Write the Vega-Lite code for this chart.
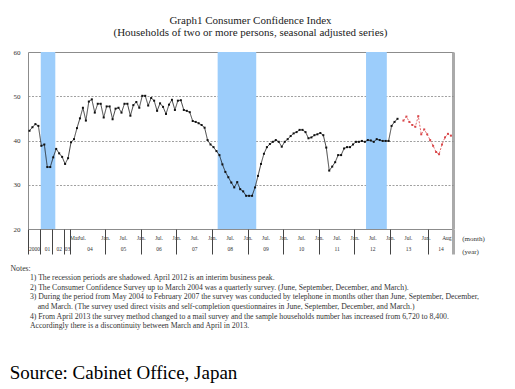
{
  "$schema": "https://vega.github.io/schema/vega-lite/v6.json",
  "width": 425,
  "height": 177,
  "autosize": {"type": "none"},
  "padding": {"left": 28, "top": 52, "right": 62, "bottom": 160},
  "background": "white",
  "config": {
    "font": "Liberation Serif",
    "view": {"stroke": "#8c8c8c", "strokeWidth": 1}
  },
  "title": {
    "text": "Graph1 Consumer Confidence Index",
    "subtitle": "(Households of two or more persons, seasonal adjusted series)",
    "font": "Liberation Serif",
    "subtitleFont": "Liberation Serif",
    "fontSize": 11,
    "subtitleFontSize": 11,
    "fontWeight": "normal",
    "color": "#222",
    "subtitleColor": "#222",
    "anchor": "middle",
    "dx": 10,
    "offset": 10,
    "subtitlePadding": 1
  },
  "datasets": {
    "rec": [
      {"start": 3.8, "end": 8.7},
      {"start": 63.4, "end": 76.4},
      {"start": 113.4, "end": 120.4}
    ],
    "cci": [
      {"slot": 0, "value": 42.2, "series": "old"},
      {"slot": 1, "value": 43.0, "series": "old"},
      {"slot": 2, "value": 43.7, "series": "old"},
      {"slot": 3, "value": 43.3, "series": "old"},
      {"slot": 4, "value": 38.8, "series": "old"},
      {"slot": 5, "value": 39.1, "series": "old"},
      {"slot": 6, "value": 34.0, "series": "old"},
      {"slot": 7, "value": 34.0, "series": "old"},
      {"slot": 8, "value": 36.2, "series": "old"},
      {"slot": 9, "value": 38.1, "series": "old"},
      {"slot": 10, "value": 37.1, "series": "old"},
      {"slot": 11, "value": 36.3, "series": "old"},
      {"slot": 12, "value": 34.7, "series": "old"},
      {"slot": 13, "value": 36.0, "series": "old"},
      {"slot": 14, "value": 39.6, "series": "old"},
      {"slot": 15, "value": 40.3, "series": "old"},
      {"slot": 16, "value": 42.8, "series": "old"},
      {"slot": 17, "value": 45.0, "series": "old"},
      {"slot": 18, "value": 47.4, "series": "old"},
      {"slot": 19, "value": 44.5, "series": "old"},
      {"slot": 20, "value": 48.8, "series": "old"},
      {"slot": 21, "value": 49.3, "series": "old"},
      {"slot": 22, "value": 46.3, "series": "old"},
      {"slot": 23, "value": 48.3, "series": "old"},
      {"slot": 24, "value": 48.3, "series": "old"},
      {"slot": 25, "value": 45.2, "series": "old"},
      {"slot": 26, "value": 47.7, "series": "old"},
      {"slot": 27, "value": 47.7, "series": "old"},
      {"slot": 28, "value": 44.8, "series": "old"},
      {"slot": 29, "value": 47.2, "series": "old"},
      {"slot": 30, "value": 47.4, "series": "old"},
      {"slot": 31, "value": 46.3, "series": "old"},
      {"slot": 32, "value": 48.3, "series": "old"},
      {"slot": 33, "value": 48.3, "series": "old"},
      {"slot": 34, "value": 45.6, "series": "old"},
      {"slot": 35, "value": 48.0, "series": "old"},
      {"slot": 36, "value": 48.7, "series": "old"},
      {"slot": 37, "value": 47.4, "series": "old"},
      {"slot": 38, "value": 50.1, "series": "old"},
      {"slot": 39, "value": 50.1, "series": "old"},
      {"slot": 40, "value": 47.9, "series": "old"},
      {"slot": 41, "value": 49.6, "series": "old"},
      {"slot": 42, "value": 49.0, "series": "old"},
      {"slot": 43, "value": 46.7, "series": "old"},
      {"slot": 44, "value": 48.4, "series": "old"},
      {"slot": 45, "value": 47.6, "series": "old"},
      {"slot": 46, "value": 46.0, "series": "old"},
      {"slot": 47, "value": 48.1, "series": "old"},
      {"slot": 48, "value": 49.2, "series": "old"},
      {"slot": 49, "value": 46.9, "series": "old"},
      {"slot": 50, "value": 49.0, "series": "old"},
      {"slot": 51, "value": 49.1, "series": "old"},
      {"slot": 52, "value": 46.9, "series": "old"},
      {"slot": 53, "value": 46.7, "series": "old"},
      {"slot": 54, "value": 46.4, "series": "old"},
      {"slot": 55, "value": 44.4, "series": "old"},
      {"slot": 56, "value": 44.2, "series": "old"},
      {"slot": 57, "value": 43.9, "series": "old"},
      {"slot": 58, "value": 43.5, "series": "old"},
      {"slot": 59, "value": 42.9, "series": "old"},
      {"slot": 60, "value": 40.1, "series": "old"},
      {"slot": 61, "value": 39.1, "series": "old"},
      {"slot": 62, "value": 38.5, "series": "old"},
      {"slot": 63, "value": 37.6, "series": "old"},
      {"slot": 64, "value": 36.7, "series": "old"},
      {"slot": 65, "value": 34.6, "series": "old"},
      {"slot": 66, "value": 32.9, "series": "old"},
      {"slot": 67, "value": 31.7, "series": "old"},
      {"slot": 68, "value": 30.5, "series": "old"},
      {"slot": 69, "value": 29.4, "series": "old"},
      {"slot": 70, "value": 30.6, "series": "old"},
      {"slot": 71, "value": 29.0, "series": "old"},
      {"slot": 72, "value": 28.5, "series": "old"},
      {"slot": 73, "value": 27.5, "series": "old"},
      {"slot": 74, "value": 27.5, "series": "old"},
      {"slot": 75, "value": 27.5, "series": "old"},
      {"slot": 76, "value": 29.4, "series": "old"},
      {"slot": 77, "value": 32.0, "series": "old"},
      {"slot": 78, "value": 34.7, "series": "old"},
      {"slot": 79, "value": 37.0, "series": "old"},
      {"slot": 80, "value": 38.5, "series": "old"},
      {"slot": 81, "value": 39.2, "series": "old"},
      {"slot": 82, "value": 39.7, "series": "old"},
      {"slot": 83, "value": 40.1, "series": "old"},
      {"slot": 84, "value": 39.7, "series": "old"},
      {"slot": 85, "value": 38.6, "series": "old"},
      {"slot": 86, "value": 39.7, "series": "old"},
      {"slot": 87, "value": 40.3, "series": "old"},
      {"slot": 88, "value": 41.0, "series": "old"},
      {"slot": 89, "value": 41.6, "series": "old"},
      {"slot": 90, "value": 41.9, "series": "old"},
      {"slot": 91, "value": 42.4, "series": "old"},
      {"slot": 92, "value": 42.4, "series": "old"},
      {"slot": 93, "value": 41.9, "series": "old"},
      {"slot": 94, "value": 40.5, "series": "old"},
      {"slot": 95, "value": 40.7, "series": "old"},
      {"slot": 96, "value": 41.2, "series": "old"},
      {"slot": 97, "value": 41.4, "series": "old"},
      {"slot": 98, "value": 41.7, "series": "old"},
      {"slot": 99, "value": 41.2, "series": "old"},
      {"slot": 100, "value": 38.4, "series": "old"},
      {"slot": 101, "value": 33.2, "series": "old"},
      {"slot": 102, "value": 34.1, "series": "old"},
      {"slot": 103, "value": 35.1, "series": "old"},
      {"slot": 104, "value": 36.7, "series": "old"},
      {"slot": 105, "value": 36.7, "series": "old"},
      {"slot": 106, "value": 38.2, "series": "old"},
      {"slot": 107, "value": 38.5, "series": "old"},
      {"slot": 108, "value": 38.5, "series": "old"},
      {"slot": 109, "value": 39.1, "series": "old"},
      {"slot": 110, "value": 39.7, "series": "old"},
      {"slot": 111, "value": 39.7, "series": "old"},
      {"slot": 112, "value": 39.9, "series": "old"},
      {"slot": 113, "value": 39.7, "series": "old"},
      {"slot": 114, "value": 40.1, "series": "old"},
      {"slot": 115, "value": 40.0, "series": "old"},
      {"slot": 116, "value": 39.7, "series": "old"},
      {"slot": 117, "value": 40.3, "series": "old"},
      {"slot": 118, "value": 40.1, "series": "old"},
      {"slot": 119, "value": 39.9, "series": "old"},
      {"slot": 120, "value": 39.9, "series": "old"},
      {"slot": 121, "value": 39.9, "series": "old"},
      {"slot": 122, "value": 43.3, "series": "old"},
      {"slot": 123, "value": 44.2, "series": "old"},
      {"slot": 124, "value": 44.9, "series": "old"},
      {"slot": 126, "value": 44.5, "series": "new"},
      {"slot": 127, "value": 45.4, "series": "new"},
      {"slot": 128, "value": 44.2, "series": "new"},
      {"slot": 129, "value": 43.5, "series": "new"},
      {"slot": 130, "value": 43.1, "series": "new"},
      {"slot": 131, "value": 45.5, "series": "new"},
      {"slot": 132, "value": 41.4, "series": "new"},
      {"slot": 133, "value": 42.5, "series": "new"},
      {"slot": 134, "value": 41.4, "series": "new"},
      {"slot": 135, "value": 40.1, "series": "new"},
      {"slot": 136, "value": 38.8, "series": "new"},
      {"slot": 137, "value": 37.4, "series": "new"},
      {"slot": 138, "value": 36.9, "series": "new"},
      {"slot": 139, "value": 39.1, "series": "new"},
      {"slot": 140, "value": 40.7, "series": "new"},
      {"slot": 141, "value": 41.5, "series": "new"},
      {"slot": 142, "value": 41.1, "series": "new"}
    ]
  },
  "layer": [
    {
      "data": {"name": "rec"},
      "mark": {"type": "rect", "color": "#9ccdfb"},
      "encoding": {
        "x": {
          "field": "start",
          "type": "quantitative",
          "scale": {"domain": [-0.5, 142.7], "nice": false, "zero": false},
          "axis": {
            "orient": "bottom",
            "values": [15, 17.5, 25.5, 31.5, 37.5, 43.5, 49.5, 55.5, 61.5, 67.5, 73.5, 79.5, 85.5, 91.5, 97.5, 103.5, 109.5, 115.5, 121.5, 127.5, 133.5, 140.7],
            "labelExpr": "datum.value < 16 ? 'Mar' : datum.value < 20 ? 'Jul.' : datum.value > 140 ? 'Aug.' : (floor(datum.value) % 12 == 1 ? 'Jan.' : 'Jul.')",
            "ticks": false,
            "domain": false,
            "grid": false,
            "labelFont": "Liberation Serif",
            "labelFontSize": 5.5,
            "labelColor": "#333",
            "labelPadding": 6,
            "labelOverlap": false,
            "labelFlush": false,
            "title": "(month)",
            "titleFont": "Liberation Serif",
            "titleFontSize": 7,
            "titleFontWeight": "normal",
            "titleColor": "#333",
            "titleX": 433.7,
            "titleY": 9,
            "titleAlign": "left",
            "titleBaseline": "middle",
            "titleLimit": 1000
          }
        },
        "x2": {"field": "end"}
      }
    },
    {
      "data": {"name": "cci"},
      "mark": {"type": "line", "strokeWidth": 0.8},
      "encoding": {
        "x": {
          "field": "slot",
          "type": "quantitative",
          "scale": {"domain": [-0.5, 142.7], "nice": false, "zero": false},
          "axis": {
            "orient": "bottom",
            "values": [-0.5, 3.5, 7.5, 11.5, 13.7, 25.5, 37.5, 49.5, 61.5, 73.5, 85.5, 97.5, 109.5, 121.5, 134.4, 142.7],
            "labels": false,
            "domain": false,
            "ticks": true,
            "tickSize": 25,
            "tickColor": {"condition": {"test": "datum.value > 142", "value": "#aaaaaa"}, "value": "#444444"},
            "tickWidth": {"condition": {"test": "datum.value > 142", "value": 3}, "value": 1},
            "grid": true,
            "gridColor": "#aaaaaa",
            "gridWidth": 3,
            "gridOpacity": {"condition": {"test": "datum.value > 142", "value": 1}, "value": 0},
            "title": [
              "Notes:",
              "\u200b\u00a0\u00a0\u00a0\u00a0\u00a0\u00a0\u00a0\u00a0\u00a0\u00a01) The recession periods are shadowed.  April 2012 is an interim business peak.",
              "\u200b\u00a0\u00a0\u00a0\u00a0\u00a0\u00a0\u00a0\u00a0\u00a0\u00a02) The Consumer Confidence Survey up to March 2004 was a quarterly survey.  (June, September, December, and March).",
              "\u200b\u00a0\u00a0\u00a0\u00a0\u00a0\u00a0\u00a0\u00a0\u00a0\u00a03) During the period from May 2004 to February 2007 the survey was conducted by telephone in months other than June, September, December,",
              "\u200b\u00a0\u00a0\u00a0\u00a0\u00a0\u00a0\u00a0\u00a0\u00a0\u00a0\u00a0\u00a0\u00a0\u00a0and March.  (The survey used direct visits and self-completion questionnaires in June, September, December, and March.)",
              "\u200b\u00a0\u00a0\u00a0\u00a0\u00a0\u00a0\u00a0\u00a0\u00a0\u00a04) From April 2013 the survey method changed to a mail survey and the sample households number has increased from 6,720 to 8,400.",
              "\u200b\u00a0\u00a0\u00a0\u00a0\u00a0\u00a0\u00a0\u00a0\u00a0\u00a0Accordingly there is a discontinuity between March and April in 2013."
            ],
            "titleFont": "Liberation Serif",
            "titleFontSize": 7.75,
            "titleFontWeight": "normal",
            "titleColor": "#333",
            "titleX": -18,
            "titleY": 41,
            "titleAlign": "left",
            "titleBaseline": "alphabetic",
            "titleLineHeight": 9.6,
            "titleLimit": 1000
          }
        },
        "y": {
          "field": "value",
          "type": "quantitative",
          "scale": {"domain": [20, 60], "nice": false, "zero": false},
          "axis": {
            "values": [20, 30, 40, 50, 60],
            "ticks": false,
            "domain": false,
            "grid": true,
            "gridColor": "#888888",
            "gridDash": [2, 1.5],
            "gridWidth": 0.8,
            "gridOpacity": {"condition": {"test": "datum.value > 20 && datum.value < 60", "value": 1}, "value": 0},
            "labelFont": "Liberation Serif",
            "labelFontSize": 7,
            "labelColor": "#333",
            "labelPadding": 8,
            "title": "Source: Cabinet Office, Japan",
            "titleFont": "Liberation Serif",
            "titleFontSize": 19,
            "titleFontWeight": "normal",
            "titleColor": "#000",
            "titleAngle": 0,
            "titleX": -18.7,
            "titleY": 326,
            "titleAlign": "left",
            "titleBaseline": "alphabetic",
            "titleLimit": 1000
          }
        },
        "color": {"field": "series", "type": "nominal", "scale": {"domain": ["old", "new"], "range": ["#111111", "#d9474a"]}, "legend": null},
        "strokeDash": {"field": "series", "type": "nominal", "scale": {"domain": ["old", "new"], "range": [[1, 0], [2, 1.5]]}, "legend": null}
      }
    },
    {
      "data": {"name": "cci"},
      "mark": {"type": "point", "shape": "square", "filled": true, "size": 4, "opacity": 1},
      "encoding": {
        "x": {
          "field": "slot",
          "type": "quantitative",
          "scale": {"domain": [-0.5, 142.7], "nice": false, "zero": false},
          "axis": {
            "orient": "bottom",
            "values": [1.5, 5.9, 9.9, 12.6, 20.2, 31.5, 43.5, 55.5, 67.5, 79.5, 91.5, 103.5, 115.5, 127.5, 138.5],
            "labelExpr": "datum.value < 3 ? '2000' : datum.value < 7 ? '01' : datum.value < 11 ? '02' : datum.value < 14 ? '03' : datum.value < 25 ? '04' : slice('0' + (5 + round((datum.value - 31.5) / 12)), -2)",
            "ticks": false,
            "domain": false,
            "grid": false,
            "labelFont": "Liberation Serif",
            "labelFontSize": 5.5,
            "labelColor": "#333",
            "labelPadding": 17.5,
            "labelOverlap": false,
            "labelFlush": false,
            "title": "(year)",
            "titleFont": "Liberation Serif",
            "titleFontSize": 7,
            "titleFontWeight": "normal",
            "titleColor": "#333",
            "titleX": 433.7,
            "titleY": 22.7,
            "titleAlign": "left",
            "titleBaseline": "middle",
            "titleLimit": 1000
          }
        },
        "y": {"field": "value", "type": "quantitative", "scale": {"domain": [20, 60], "nice": false, "zero": false}},
        "color": {"field": "series", "type": "nominal", "scale": {"domain": ["old", "new"], "range": ["#111111", "#d9474a"]}, "legend": null}
      }
    }
  ],
  "resolve": {"scale": {"x": "shared"}, "axis": {"x": "independent"}}
}
